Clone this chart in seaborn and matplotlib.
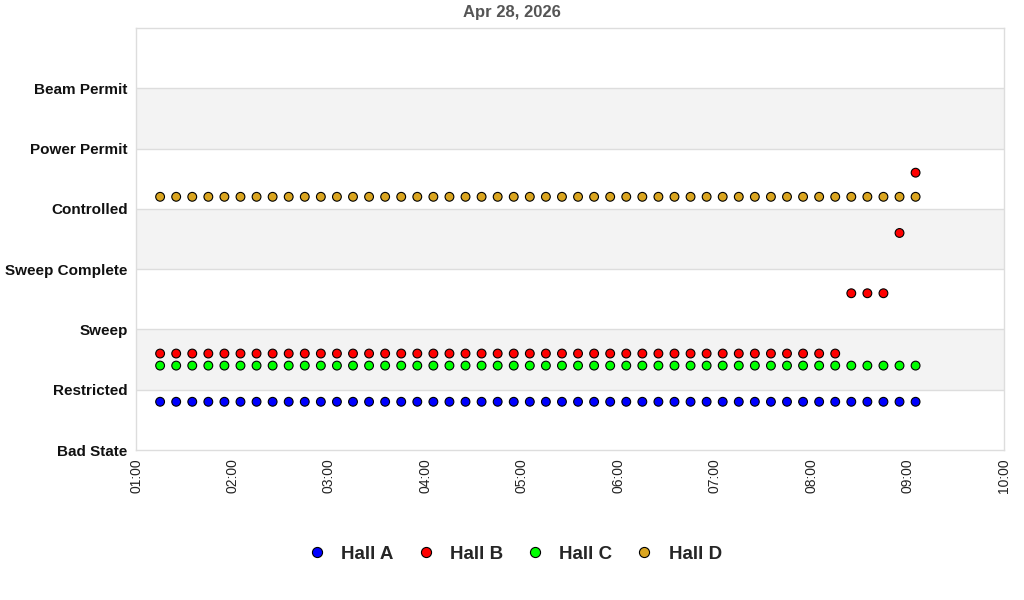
import matplotlib
matplotlib.use("Agg")
import matplotlib.pyplot as plt
import matplotlib.dates as mdates
import seaborn as sns
import pandas as pd
import numpy as np

# ---- data ----
states = ["Bad State", "Restricted", "Sweep", "Sweep Complete", "Controlled", "Power Permit", "Beam Permit"]
halls = ["Hall A", "Hall B", "Hall C", "Hall D"]
colors = ["#0000ff", "#ff0000", "#00ff00", "#daa520"]
date = "2026-04-28"
times = pd.date_range(f"{date} 01:15", f"{date} 09:05", freq="10min")
n = len(times)
hall_a = [0.8] * n
hall_b = [1.6] * 43 + [2.6, 2.6, 2.6, 3.6, 4.6]
hall_c = [1.4] * n
hall_d = [4.2] * n
title = "Apr 28, 2026"

rows = []
for h, vals in zip(halls, [hall_a, hall_b, hall_c, hall_d]):
    for t, v in zip(times, vals):
        rows.append({"time": t, "state": v, "hall": h})
df = pd.DataFrame(rows)

sns.set_style("white")
plt.rcParams["font.family"] = ["Liberation Sans", "DejaVu Sans"]

fig = plt.figure(figsize=(10.24, 6.0), dpi=100)
ax = fig.add_axes([136 / 1024, 1 - 450 / 600, (1004 - 136) / 1024, (450 - 28) / 600])

# alternating bands
for i in range(len(states)):
    if i % 2 == 1:
        ax.axhspan(i, i + 1, color="#f3f3f3", zorder=0, lw=0)
for i in range(1, len(states)):
    ax.axhline(i, color="#dddddd", lw=1, zorder=0.5)

sns.scatterplot(data=df, x="time", y="state", hue="hall", hue_order=halls,
                palette=colors, s=40, edgecolor="black", linewidth=0.8,
                marker="o", ax=ax, zorder=3, legend=True)

ax.set_ylim(0, 7)
ax.set_yticks(range(len(states)))
ax.set_yticklabels(states, fontsize=11, fontweight="bold", color="#111111")
ax.set_xlim(pd.Timestamp(f"{date} 01:00"), pd.Timestamp(f"{date} 10:00"))
ax.xaxis.set_major_locator(mdates.HourLocator())
ax.xaxis.set_major_formatter(mdates.DateFormatter("%H:%M"))
plt.setp(ax.get_xticklabels(), rotation=90, fontsize=10, color="#222222")
ax.tick_params(axis="both", length=0, pad=6)
ax.set_xlabel("")
ax.set_ylabel("")
for sp in ax.spines.values():
    sp.set_color("#dddddd")
    sp.set_linewidth(1)

fig.text(0.5, 1 - 12 / 600, title, ha="center", va="center", fontsize=12,
         fontweight="bold", color="#555555")

handles, labels = ax.get_legend_handles_labels()
ax.legend_.remove()
fig.legend(handles, labels, loc="center", bbox_to_anchor=(0.5, 1 - 554 / 600), ncol=4,
           frameon=False, prop={"weight": "bold", "size": 13.5}, handletextpad=0.5,
           columnspacing=0.9, handlelength=1.6, markerscale=1.15)

fig.savefig("out.png", dpi=100)
